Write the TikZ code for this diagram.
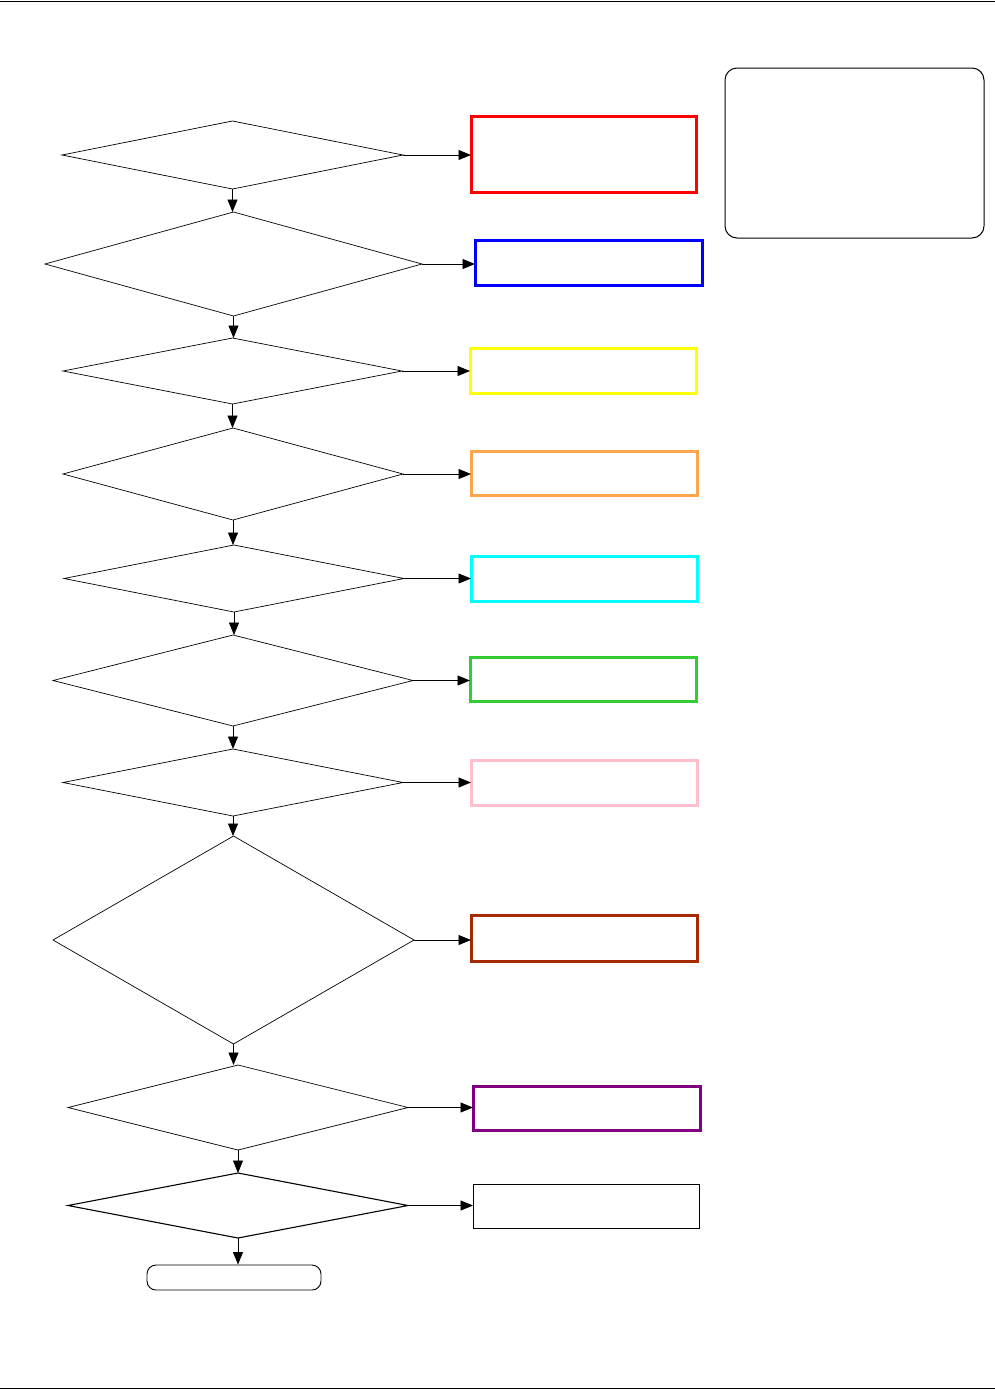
\documentclass[tikz,border=0pt]{standalone}
\usetikzlibrary{shapes.geometric,arrows.meta}
\definecolor{cred}{HTML}{FF0000}
\definecolor{cblue}{HTML}{0000FF}
\definecolor{cyel}{HTML}{FFFF00}
\definecolor{corange}{HTML}{FFA64D}
\definecolor{ccyan}{HTML}{00FFFF}
\definecolor{cgreen}{HTML}{33CC33}
\definecolor{cpink}{HTML}{FFC0CB}
\definecolor{cbrown}{HTML}{A62A00}
\definecolor{cpurple}{HTML}{800080}
\tikzset{
  dec/.style={draw, shape=diamond, inner sep=0pt, outer sep=0pt, line width=0.7pt},
  resbox/.style={draw, rectangle, inner sep=0pt, outer sep=0pt, line width=3pt},
  flow/.style={-{Triangle[length=12.5pt,width=10pt]}, line width=0.9pt},
  rule/.style={line width=1.5pt}
}
\newcommand{\dnode}[6]{% name, l, r, t, b, extra
  \node[dec,#6, minimum width={#3-#2}, minimum height={#5-#4}] (#1) at ({(#2+#3)/2},{(#4+#5)/2}) {};}
\newcommand{\bnode}[7]{% name, l, r, t, b, colour, extra
  \node[resbox, draw=#6, #7, minimum width={#3-#2}, minimum height={#5-#4}] (#1) at ({(#2+#3)/2},{(#4+#5)/2}) {};}
\begin{document}
\begin{tikzpicture}[x=1pt,y=-1pt]
\useasboundingbox (0,0) rectangle (995,1390);
\coordinate (tl) at (0,1.5); \coordinate (tr) at (995,1.5);
\coordinate (bl) at (0,1388.5); \coordinate (br) at (995,1388.5);
\draw[rule] (tl) -- (tr);
\draw[rule] (bl) -- (br);

\dnode{d1}{62}{403}{121}{189}{}
\dnode{d2}{45}{422}{212}{316}{}
\dnode{d3}{63}{402}{338}{404}{}
\dnode{d4}{63}{403}{428}{520}{}
\dnode{d5}{64}{404}{545}{612}{}
\dnode{d6}{53}{413}{635}{726}{}
\dnode{d7}{63}{403}{749}{816}{}
\dnode{d8}{53}{414}{836}{1044}{}
\dnode{d9}{68}{408}{1065}{1150}{}
\dnode{d10}{68}{408}{1173}{1238}{line width=1.1pt}

\node[draw, rounded corners=9pt, line width=0.9pt, minimum width=174pt, minimum height=25pt, inner sep=0pt] (end) at (234,1277.5) {};

\bnode{b1}{471}{696}{116}{192}{cred}{}
\bnode{b2}{475}{702}{240}{285}{cblue}{}
\bnode{b3}{470}{696}{348}{393}{cyel}{}
\bnode{b4}{471}{697}{451}{495}{corange}{}
\bnode{b5}{471}{697}{556}{601}{ccyan}{}
\bnode{b6}{470}{696}{657}{701}{cgreen}{}
\bnode{b7}{471}{697}{760}{805}{cpink}{}
\bnode{b8}{471}{697}{915}{961}{cbrown}{}
\bnode{b9}{473}{700}{1086}{1130}{cpurple}{}
\bnode{b10}{473}{699}{1184}{1228}{black}{line width=1pt}

\node[draw, rounded corners=12pt, line width=1pt, minimum width=259pt, minimum height=170pt, inner sep=0pt] (note) at (854.5,153) {};

\foreach \a/\b in {d1/d2,d2/d3,d3/d4,d4/d5,d5/d6,d6/d7,d7/d8,d8/d9,d9/d10,d10/end}{
  \draw[flow] (\a.south) -- (\a.south |- \b.north);
}
\foreach \i in {1,...,10}{
  \draw[flow] (d\i.east) -- (d\i.east -| b\i.west);
}
\end{tikzpicture}
\end{document}
